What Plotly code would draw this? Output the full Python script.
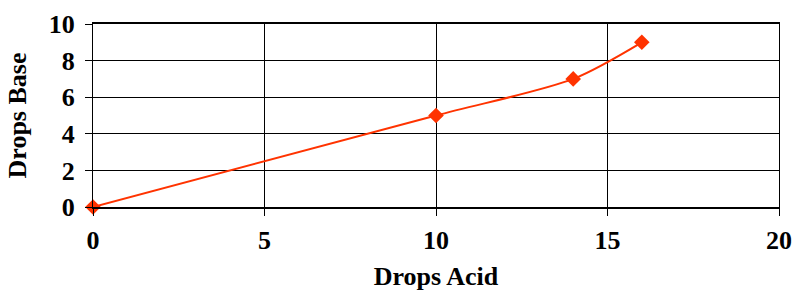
import plotly.graph_objects as go

drops_acid = [0, 10, 14, 16]
drops_base = [0, 5, 7, 9]
x_ticks = [0, 5, 10, 15, 20]
y_ticks = [0, 2, 4, 6, 8, 10]

font_family = "Liberation Serif, Times New Roman, serif"

fig = go.Figure()
fig.add_trace(go.Scatter(
    x=drops_acid, y=drops_base, mode="lines+markers",
    line=dict(color="#FF3300", width=2, shape="spline", smoothing=0.8),
    marker=dict(symbol="diamond", size=12, color="#FF3300"),
    cliponaxis=False, showlegend=False,
))

fig.update_layout(
    width=795, height=291,
    margin=dict(l=93, r=16, t=24, b=84),
    paper_bgcolor="white", plot_bgcolor="white",
    font=dict(family=font_family, size=26, color="black"),
    xaxis=dict(
        range=[0, 20], tickvals=x_ticks, ticktext=[f"<b>{v}</b>" for v in x_ticks],
        tickfont=dict(size=26),
        showgrid=True, gridcolor="black", gridwidth=1,
        showline=True, linecolor="black", linewidth=2, mirror=True,
        ticks="outside", ticklen=7, tickcolor="black", tickwidth=1,
        ticklabelstandoff=2,
        zeroline=False, automargin=False,
        title=dict(text="<b>Drops Acid</b>", font=dict(size=26), standoff=14),
    ),
    yaxis=dict(
        range=[0, 10], tickvals=y_ticks, ticktext=[f"<b>{v}</b>" for v in y_ticks],
        tickfont=dict(size=26),
        showgrid=True, gridcolor="black", gridwidth=1,
        showline=True, linecolor="black", linewidth=1, mirror=True,
        ticks="outside", ticklen=7, tickcolor="black", tickwidth=1,
        ticklabelstandoff=5,
        zeroline=False, automargin=False,
        title=dict(text="<b>Drops Base</b>", font=dict(size=26), standoff=14),
    ),
)

fig.write_html(
    "out.html",
    config={"displayModeBar": False},
    post_script="document.body.style.margin='0';document.body.style.overflow='hidden';"
                "document.documentElement.style.overflow='hidden';",
)
